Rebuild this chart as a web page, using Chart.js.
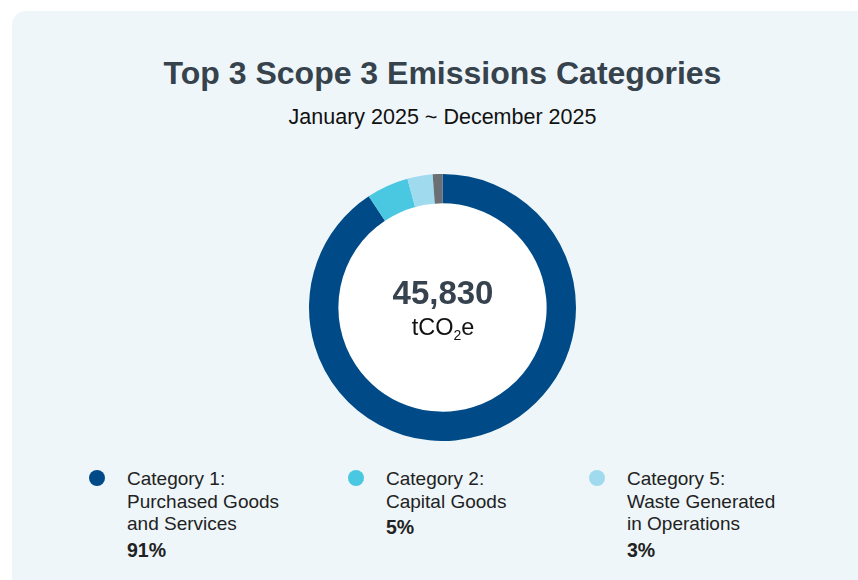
<!DOCTYPE html>
<html>
<head>
<meta charset="utf-8">
<script src="https://cdn.jsdelivr.net/npm/chart.js@4"></script>
<style>
  html, body { margin: 0; padding: 0; background: #fff; overflow: hidden; }
  body { width: 858px; height: 580px; position: relative; font-family: "Liberation Sans", Arial, sans-serif; }
  .card { position: absolute; left: 12px; top: 11px; width: 861px; height: 600px; background: #eef6f9; border-radius: 14px; }
  .title { position: absolute; left: 0; width: 885px; top: 57px; text-align: center; font-size: 32px; line-height: 32px; font-weight: bold; color: #36424c; }
  .subtitle { position: absolute; left: 0; width: 885px; top: 107px; text-align: center; font-size: 21.5px; line-height: 21px; color: #111; }
  .chart-box { position: absolute; left: 309px; top: 174px; width: 267px; height: 267px; }
  .center { position: absolute; left: 343px; width: 200px; text-align: center; }
  .total { top: 276px; font-size: 33px; line-height: 33px; font-weight: bold; color: #36424d; }
  .unit { top: 316px; font-size: 23.5px; line-height: 23px; color: #111; }
  .unit sub { font-size: 14px; vertical-align: -5px; line-height: 0; }
  .legend-item { position: absolute; top: 468px; font-size: 19px; line-height: 22.5px; color: #222; }
  .legend-item .dot { position: absolute; left: -38px; top: 2px; width: 16px; height: 16px; border-radius: 50%; }
  .legend-item .pct { font-weight: bold; margin-top: 3px; font-size: 19.5px; }
</style>
</head>
<body>
<div class="card"></div>
<div class="title">Top 3 Scope 3 Emissions Categories</div>
<div class="subtitle">January 2025 ~ December 2025</div>
<div class="chart-box"><canvas id="donut"></canvas></div>
<div class="center total" id="total"></div>
<div class="center unit">tCO<sub>2</sub>e</div>
<div id="legend"></div>

<script>
'use strict';

// emissions data (tCO2e)
const categories = ['Category 1: Purchased Goods and Services', 'Category 2: Capital Goods', 'Category 5: Waste Generated in Operations', 'Other Categories'];
const legendLines = [
  ['Category 1:', 'Purchased Goods', 'and Services'],
  ['Category 2:', 'Capital Goods'],
  ['Category 5:', 'Waste Generated', 'in Operations']
];
const emissions = [41560, 2330, 1400, 540];
const percents = [91, 5, 3];
const colors = ['#004b87', '#4ac8e2', '#9fdaee', '#6b6f74'];
const legendLeft = [127, 386, 627];

const total = emissions.reduce(function (a, b) { return a + b; }, 0);
document.getElementById('total').textContent = total.toLocaleString('en-US');

// legend (top 3 only)
const legend = document.getElementById('legend');
legendLines.forEach(function (lines, i) {
  const item = document.createElement('div');
  item.className = 'legend-item';
  item.style.left = legendLeft[i] + 'px';
  const dot = document.createElement('span');
  dot.className = 'dot';
  dot.style.background = colors[i];
  item.appendChild(dot);
  lines.forEach(function (t) {
    const line = document.createElement('div');
    line.textContent = t;
    item.appendChild(line);
  });
  const pct = document.createElement('div');
  pct.className = 'pct';
  pct.textContent = percents[i] + '%';
  item.appendChild(pct);
  legend.appendChild(item);
});

// white fill inside the donut hole
const holeFill = {
  id: 'holeFill',
  beforeDatasetsDraw: function (chart) {
    const arc = chart.getDatasetMeta(0).data[0];
    if (!arc) return;
    const ctx = chart.ctx;
    ctx.save();
    ctx.beginPath();
    ctx.arc(arc.x, arc.y, arc.innerRadius, 0, Math.PI * 2);
    ctx.fillStyle = '#ffffff';
    ctx.fill();
    ctx.restore();
  }
};

new Chart(document.getElementById('donut'), {
  type: 'doughnut',
  data: {
    labels: categories,
    datasets: [{
      data: emissions,
      backgroundColor: colors,
      borderWidth: 0
    }]
  },
  options: {
    responsive: true,
    maintainAspectRatio: false,
    animation: false,
    cutout: '78%',
    plugins: {
      legend: { display: false },
      tooltip: { enabled: false }
    }
  },
  plugins: [holeFill]
});
</script>
</body>
</html>
